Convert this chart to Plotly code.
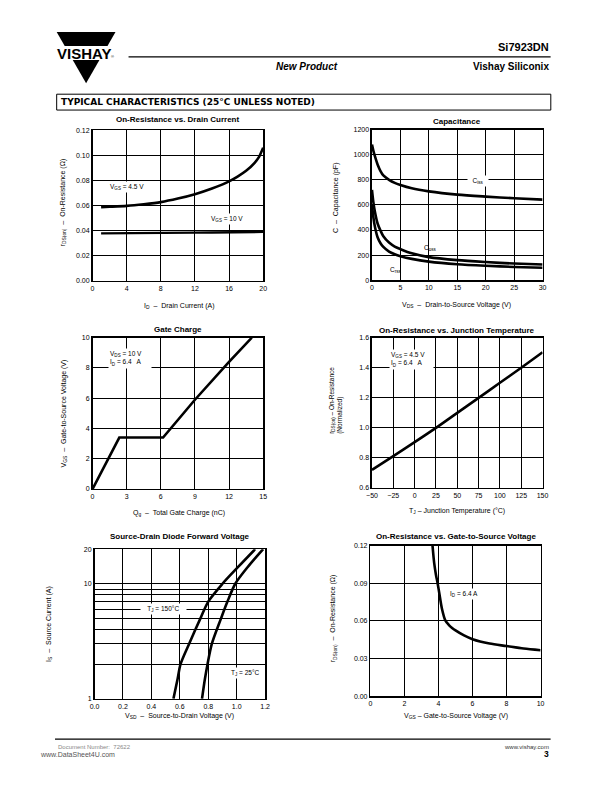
import math
import plotly.graph_objects as go

W, H = 612, 792
FONT = "Liberation Sans, Arial, sans-serif"
NARROW = "Liberation Sans Narrow, Liberation Sans, Arial, sans-serif"

# ---------------- data ----------------
# 1. On-Resistance vs. Drain Current
id_a = [1, 2, 4, 6, 8, 10, 12, 14, 16, 17, 18, 19, 19.5, 20]
rds_vgs45 = [0.0587, 0.059, 0.0597, 0.061, 0.0627, 0.0655, 0.069, 0.0735, 0.0792, 0.083, 0.0876, 0.094, 0.0985, 0.106]
rds_vgs10 = [0.0378, 0.0379, 0.0380, 0.0381, 0.0382, 0.0383, 0.0384, 0.0385, 0.0386, 0.0387, 0.0388, 0.0389, 0.0389, 0.0390]

# 2. Capacitance
vds = [0, 0.25, 0.5, 1, 1.5, 2, 3, 4, 5, 7, 10, 15, 20, 25, 30]
ciss = [1080, 1030, 990, 920, 870, 835, 800, 775, 758, 732, 708, 682, 666, 653, 642]
coss = [720, 620, 550, 450, 395, 350, 300, 268, 248, 214, 184, 160, 145, 133, 125]
crss = [600, 500, 430, 340, 295, 265, 228, 207, 192, 170, 148, 127, 115, 106, 100]

# 3. Gate Charge
qg = [0, 2.35, 6.2, 9, 12, 14]
vgs_gc = [0, 3.4, 3.4, 5.9, 8.4, 10]

# 4. On-Resistance vs. Junction Temperature
tj = [-50, -25, 0, 25, 50, 75, 100, 125, 150]
rds_norm = [0.72, 0.812, 0.905, 1.0, 1.1, 1.2, 1.3, 1.4, 1.503]

# 5. Source-Drain Diode Forward Voltage
is_a = [1, 1.5, 2, 3, 5, 7, 10, 14, 20]
vsd_150 = [0.555, 0.585, 0.605, 0.665, 0.745, 0.80, 0.90, 1.01, 1.13]
vsd_25 = [0.756, 0.777, 0.795, 0.825, 0.89, 0.935, 0.99, 1.078, 1.186]

# 6. On-Resistance vs. Gate-to-Source Voltage
vgs6 = [3.65, 3.75, 3.85, 3.95, 4.05, 4.2, 4.4, 4.6, 4.8, 5.0, 5.5, 6, 7, 8, 9, 10]
rds6 = [0.12, 0.106, 0.097, 0.09, 0.082, 0.07, 0.0605, 0.057, 0.0545, 0.0525, 0.0485, 0.0455, 0.042, 0.040, 0.038, 0.0367]

# tick labels
x1_ticks = [0, 4, 8, 12, 16, 20]
y1_ticks = [0, 0.02, 0.04, 0.06, 0.08, 0.10, 0.12]
x2_ticks = [0, 5, 10, 15, 20, 25, 30]
y2_ticks = [0, 200, 400, 600, 800, 1000, 1200]
x3_ticks = [0, 3, 6, 9, 12, 15]
y3_ticks = [0, 2, 4, 6, 8, 10]
x4_ticks = [-50, -25, 0, 25, 50, 75, 100, 125, 150]
y4_ticks = [0.6, 0.8, 1.0, 1.2, 1.4, 1.6]
x5_ticks = [0.0, 0.2, 0.4, 0.6, 0.8, 1.0, 1.2]
y5_ticks = [1, 2, 3, 4, 5, 6, 7, 8, 9, 10, 20]
y5_text = ["1", "", "", "", "", "", "", "", "", "10", "20"]
x6_ticks = [0, 2, 4, 6, 8, 10]
y6_ticks = [0, 0.03, 0.06, 0.09, 0.12]

# ---------------- helpers ----------------
def px(x):
    return x / W


def py(y):
    return 1 - y / H


# plot boxes in page pixels: left, right, top, bottom
boxes = {
    1: (88.3, 262.3, 127.3, 279.3),
    2: (373.3, 547.3, 126.7, 278.7),
    3: (88.3, 262.3, 336.7, 489.3),
    4: (373.3, 547.3, 336.7, 488.3),
    5: (90.3, 264.3, 550.0, 701.0),
    6: (371.7, 545.3, 546.7, 698.3),
}

fig = go.Figure()


def add(i, x, y, shape="spline", width=2.6):
    if shape == "spline":
        ln = dict(color="black", width=width, shape=shape, smoothing=0.8)
    else:
        ln = dict(color="black", width=width, shape=shape)
    fig.add_trace(go.Scatter(
        x=x, y=y, mode="lines", line=ln,
        xaxis="x" if i == 1 else f"x{i}", yaxis="y" if i == 1 else f"y{i}",
        showlegend=False, hoverinfo="skip"))


add(1, id_a, rds_vgs45)
add(1, id_a, rds_vgs10, shape="linear", width=2.4)
add(2, vds, ciss)
add(2, vds, coss)
add(2, vds, crss)
add(3, qg, vgs_gc, shape="linear")
add(4, tj, rds_norm)
add(5, vsd_150, is_a)
add(5, vsd_25, is_a)
add(6, vgs6, rds6)

common = dict(showgrid=True, gridcolor="black", gridwidth=1, showline=True,
              linecolor="black", linewidth=1.5, mirror=True, zeroline=False,
              ticks="", tickfont=dict(family=FONT, size=7, color="black"),
              fixedrange=True)

axes_cfg = {
    1: (dict(range=[0, 20], tickvals=x1_ticks),
        dict(range=[0, 0.12], tickvals=y1_ticks, tickformat=".2f")),
    2: (dict(range=[0, 30], tickvals=x2_ticks),
        dict(range=[0, 1200], tickvals=y2_ticks)),
    3: (dict(range=[0, 15], tickvals=x3_ticks),
        dict(range=[0, 10], tickvals=y3_ticks)),
    4: (dict(range=[-50, 150], tickvals=x4_ticks),
        dict(range=[0.6, 1.6], tickvals=y4_ticks, tickformat=".1f")),
    5: (dict(range=[0, 1.2], tickvals=x5_ticks, tickformat=".1f"),
        dict(type="log", range=[0, math.log10(20)], tickvals=y5_ticks, ticktext=y5_text)),
    6: (dict(range=[0, 10], tickvals=x6_ticks),
        dict(range=[0, 0.12], tickvals=y6_ticks, tickformat=".2f")),
}

layout_axes = {}
for i, (xc, yc) in axes_cfg.items():
    l, r, t, b = boxes[i]
    xn = "xaxis" if i == 1 else f"xaxis{i}"
    yn = "yaxis" if i == 1 else f"yaxis{i}"
    xa = "x" if i == 1 else f"x{i}"
    ya = "y" if i == 1 else f"y{i}"
    layout_axes[xn] = dict(common, domain=[px(l), px(r)], anchor=ya, **xc)
    layout_axes[yn] = dict(common, domain=[py(b), py(t)], anchor=xa, **yc)

ann = []


def text(x, y, s, size=7, bold=False, anchor="center", color="black", angle=0,
         bg=None, family=FONT, italic=False, valign="middle"):
    if bold:
        s = f"<b>{s}</b>"
    if italic:
        s = f"<i>{s}</i>"
    d = dict(x=px(x), y=py(y), xref="paper", yref="paper", text=s, showarrow=False,
             xanchor=anchor, yanchor=valign, textangle=angle,
             font=dict(family=family, size=size, color=color), align="left")
    if bg:
        d.update(bgcolor=bg, borderpad=1)
    ann.append(d)


# chart titles
titles = {1: ("On-Resistance vs. Drain Current", 116.7),
          2: ("Capacitance", 118.3),
          3: ("Gate Charge", 328.3),
          4: ("On-Resistance vs. Junction Temperature", 329.5),
          5: ("Source-Drain Diode Forward Voltage", 537.3),
          6: ("On-Resistance vs. Gate-to-Source Voltage", 537.7)}
for i, (s, y) in titles.items():
    l, r, t, b = boxes[i]
    text((l + r) / 2, y, s, size=8, bold=True)

# axis titles
text(176, 305, "I<sub>D</sub>  –  Drain Current (A)")
text(58.3, 200, "r<sub>DS(on)</sub>  –  On-Resistance (Ω)", angle=-90)
text(460, 303.3, "V<sub>DS</sub>  –  Drain-to-Source Voltage (V)")
text(337.3, 196, "C  –  Capacitance (pF)", angle=-90)
text(176, 513.3, "Q<sub>g</sub>  –  Total Gate Charge (nC)")
text(59.3, 413, "V<sub>GS</sub>  –  Gate-to-Source Voltage (V)", angle=-90)
text(460, 511.7, "T<sub>J</sub> – Junction Temperature (°C)")
text(337, 400, "r<sub>DS(on)</sub> – On-Resistance<br>(Normalized)", angle=-90, size=6.5)
text(177, 718.3, "V<sub>SD</sub>  –  Source-to-Drain Voltage (V)")
text(44.3, 625, "I<sub>S</sub>  –  Source Current (A)", angle=-90)
text(458.5, 718.3, "V<sub>GS</sub> – Gate-to-Source Voltage (V)")
text(333.3, 620, "r<sub>DS(on)</sub>  –  On-Resistance (Ω)", angle=-90)

# in-plot labels
text(104, 185, "V<sub>GS</sub> = 4.5 V", anchor="left", bg="white", size=6.5)
text(207, 217, "V<sub>GS</sub> = 10 V", anchor="left", bg="white", size=6.5)
text(470, 178.3, "  C<sub>iss</sub>  ", anchor="left", bg="white", size=6.5)
text(424, 246, "C<sub>oss</sub>", anchor="left", size=6.5)
text(390, 268, "C<sub>rss</sub>", anchor="left", size=6.5)
text(104, 357.5, "V<sub>DS</sub> = 10 V<br>I<sub>D</sub> = 6.4   A     ", anchor="left", bg="white", size=6.5)
text(391, 359, "V<sub>GS</sub> = 4.5 V<br>I<sub>D</sub> = 6.4   A      ", anchor="left", bg="white", size=6.5)
text(161, 610, "   T<sub>J</sub> = 150°C   ", bg="white", size=6.5)
text(244, 675, "T<sub>J</sub> = 25°C", bg="white", size=6.5)
text(467, 595.7, "I<sub>D</sub> = 6.4 A", bg="white", size=6.5)

# header
shapes = []
shapes.append(dict(type="path", xref="paper", yref="paper",
                   path=f"M {px(51.7)},{py(28.3)} L {px(111.7)},{py(28.3)} L {px(81.7)},{py(80)} Z",
                   fillcolor="black", line=dict(width=0)))
shapes.append(dict(type="rect", xref="paper", yref="paper",
                   x0=px(45), x1=px(118), y0=py(56.5), y1=py(42.5),
                   fillcolor="white", line=dict(width=0)))
text(79.5, 49.8, "VISHAY", size=15, bold=True, family="Liberation Sans, Arial, sans-serif")
text(108.5, 52.5, "®", size=4)
shapes.append(dict(type="line", xref="paper", yref="paper",
                   x0=px(125), x1=px(555.5), y0=py(53.3), y1=py(53.3),
                   line=dict(color="black", width=1.2)))
text(556, 43, "Si7923DN", size=11, bold=True, anchor="right", family=NARROW)
text(556, 63.5, "Vishay Siliconix", size=10, bold=True, anchor="right", family=NARROW)
text(307, 63.5, "New Product", size=10, bold=True, italic=True, family=NARROW)

shapes.append(dict(type="rect", xref="paper", yref="paper",
                   x0=px(51.7), x1=px(555.7), y0=py(107), y1=py(91),
                   fillcolor="white", line=dict(color="black", width=1)))
text(54.5, 99.3, "TYPICAL CHARACTERISTICS (25°C UNLESS NOTED)", size=9, bold=True,
     anchor="left", family="DejaVu Sans, sans-serif")

# footer
shapes.append(dict(type="line", xref="paper", yref="paper",
                   x0=px(50), x1=px(555.5), y0=py(741.7), y1=py(741.7),
                   line=dict(color="black", width=1.2)))
text(50.7, 750, "Document Number:  72622", size=6, anchor="left", color="#888888")
text(33, 756.7, "www.DataSheet4U.com", size=7, anchor="left", color="#555555")
text(555.5, 750, "www.vishay.com", size=6, anchor="right", color="#333333")
text(555.5, 756.5, "3", size=8.5, anchor="right", bold=True)

fig.update_layout(
    width=W, height=H, margin=dict(l=0, r=0, t=0, b=0),
    paper_bgcolor="white", plot_bgcolor="white",
    annotations=ann, shapes=shapes, showlegend=False,
    **layout_axes)

fig.write_html("out.html", config={"displayModeBar": False, "staticPlot": True},
               post_script="document.body.style.margin='0';document.body.style.overflow='hidden';")
